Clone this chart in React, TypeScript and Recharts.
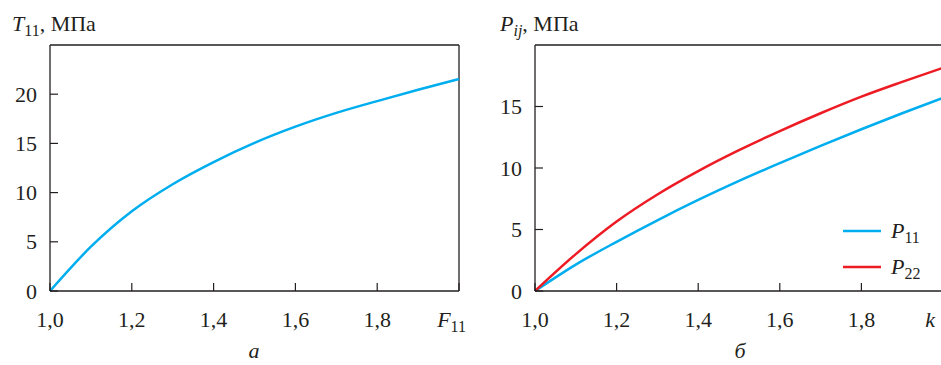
import { LineChart, Line, XAxis, YAxis, ReferenceLine } from 'recharts'

const kValues = [1.0, 1.1, 1.2, 1.3, 1.4, 1.5, 1.6, 1.7, 1.8, 1.9, 2.0]
const t11 = [0, 4.5, 8.1, 10.85, 13.1, 15.05, 16.7, 18.1, 19.3, 20.45, 21.55]
const p11 = [0, 2.15, 4.0, 5.75, 7.4, 8.95, 10.4, 11.8, 13.15, 14.45, 15.7]
const p22 = [0, 3.0, 5.65, 7.85, 9.75, 11.45, 13.0, 14.45, 15.8, 17.0, 18.15]

const xTicks = [1.0, 1.2, 1.4, 1.6, 1.8, 2.0]
const leftYTicks = [0, 5, 10, 15, 20]
const rightYTicks = [0, 5, 10, 15]

const FONT = "'Liberation Serif', 'Times New Roman', 'DejaVu Serif', serif"
const FS = 22
const SUB = 16
const INK = '#231f20'
const BLUE = '#00aeef'
const RED = '#ed1c24'

const leftData = kValues.map((k, i) => ({ k, t11: t11[i] }))
const rightData = kValues.map((k, i) => ({ k, p11: p11[i], p22: p22[i] }))

const txt = { fontFamily: FONT, fontSize: FS, fill: INK }

function makeXTick(last: 'F' | 'k') {
  return (props: any) => {
    const { x, y, payload } = props
    const v = payload.value
    const isLast = Math.abs(v - 2) < 1e-6
    return (
      <g>
        <line x1={x} y1={y} x2={x} y2={y - 8} stroke={INK} strokeWidth={1.2} />
        {isLast ? (
          last === 'F' ? (
            <text x={x + 7} y={y + 36} textAnchor="end" style={txt}>
              <tspan fontStyle="italic">F</tspan>
              <tspan fontSize={SUB} dy={5}>11</tspan>
            </text>
          ) : (
            <text x={x - 8} y={y + 36} textAnchor="end" style={{ ...txt, fontStyle: 'italic' }}>
              k
            </text>
          )
        ) : (
          <text x={x} y={y + 36} textAnchor="middle" style={txt}>
            {v.toFixed(1).replace('.', ',')}
          </text>
        )}
      </g>
    )
  }
}

const YTick = (props: any) => {
  const { x, y, payload } = props
  return (
    <g>
      <line x1={x} y1={y} x2={x + 8} y2={y} stroke={INK} strokeWidth={1.2} />
      <text x={x - 13} y={y + 7.5} textAnchor="end" style={txt}>
        {payload.value}
      </text>
    </g>
  )
}

const axisProps = {
  tickSize: 0,
  tickMargin: 0,
  tickLine: false,
  interval: 0 as const,
  axisLine: { stroke: INK, strokeWidth: 1.3 },
}

export default function App() {
  return (
    <div style={{ position: 'absolute', left: 0, top: 0, width: 941, height: 365, overflow: 'hidden', background: '#fff' }}>
      <div style={{ position: 'absolute', left: 0, top: 0 }}>
        <LineChart width={470} height={365} data={leftData} margin={{ top: 45, right: 11, bottom: 44, left: 0 }}>
          <XAxis dataKey="k" type="number" domain={[1, 2]} ticks={xTicks} height={30} tick={makeXTick('F')} {...axisProps} />
          <YAxis type="number" domain={[0, 25]} ticks={leftYTicks} width={50} tick={YTick} {...axisProps} />
          <ReferenceLine y={25} stroke={INK} strokeWidth={1.3} />
          <ReferenceLine x={2} stroke={INK} strokeWidth={1.3} />
          <Line type="monotone" dataKey="t11" stroke={BLUE} strokeWidth={2.5} dot={false} isAnimationActive={false} />
        </LineChart>
      </div>
      <div style={{ position: 'absolute', left: 480, top: 0 }}>
        <LineChart width={480} height={365} data={rightData} margin={{ top: 45, right: 17, bottom: 44, left: 0 }}>
          <XAxis dataKey="k" type="number" domain={[1, 2]} ticks={xTicks} height={30} tick={makeXTick('k')} {...axisProps} />
          <YAxis type="number" domain={[0, 20]} ticks={rightYTicks} width={55} tick={YTick} {...axisProps} />
          <ReferenceLine y={20} stroke={INK} strokeWidth={1.3} />
          <ReferenceLine x={2} stroke={INK} strokeWidth={1.3} />
          <Line type="monotone" dataKey="p11" name="P11" stroke={BLUE} strokeWidth={2.5} dot={false} isAnimationActive={false} />
          <Line type="monotone" dataKey="p22" name="P22" stroke={RED} strokeWidth={2.5} dot={false} isAnimationActive={false} />
        </LineChart>
      </div>
      <svg width={941} height={365} style={{ position: 'absolute', left: 0, top: 0, pointerEvents: 'none' }}>
        <text x={12} y={31} style={txt}>
          <tspan fontStyle="italic">T</tspan>
          <tspan fontSize={SUB} dy={5}>11</tspan>
          <tspan dy={-5}>, МПа</tspan>
        </text>
        <text x={500} y={31} style={txt}>
          <tspan fontStyle="italic">P</tspan>
          <tspan fontSize={SUB} dy={5} fontStyle="italic">ij</tspan>
          <tspan dy={-5}>, МПа</tspan>
        </text>
        <line x1={843} y1={231} x2={881} y2={231} stroke={BLUE} strokeWidth={2.5} />
        <text x={891} y={238} style={txt}>
          <tspan fontStyle="italic">P</tspan>
          <tspan fontSize={SUB} dy={5}>11</tspan>
        </text>
        <line x1={843} y1={267} x2={881} y2={267} stroke={RED} strokeWidth={2.5} />
        <text x={891} y={274} style={txt}>
          <tspan fontStyle="italic">P</tspan>
          <tspan fontSize={SUB} dy={5}>22</tspan>
        </text>
        <text x={254} y={358} textAnchor="middle" style={{ ...txt, fontStyle: 'italic' }}>
          а
        </text>
        <text x={740} y={358} textAnchor="middle" style={{ ...txt, fontStyle: 'italic' }}>
          б
        </text>
      </svg>
    </div>
  )
}
